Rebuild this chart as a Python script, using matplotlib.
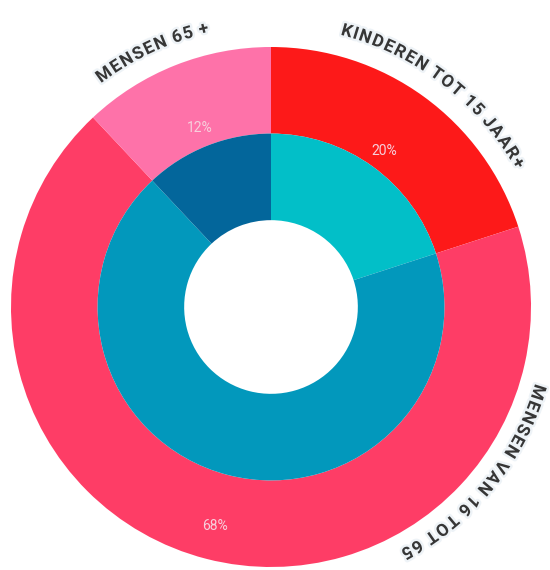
import matplotlib
matplotlib.use('Agg')
import matplotlib.pyplot as plt
import matplotlib.patheffects as pe
from matplotlib.font_manager import FontProperties
import numpy as np

# data
groups = ['KINDEREN TOT 15 JAAR+', 'MENSEN VAN 16 TOT 65', 'MENSEN 65 +']
outer_values = [20, 68, 12]
inner_values = [20, 68, 12]
pct_labels = ['20%', '68%', '12%']

outer_colors = ['#fd1919', '#fe3d66', '#fe72a9']
inner_colors = ['#02bfc8', '#0298bc', '#03669b']

# where the curved labels sit (degrees clockwise from 12 o'clock, gap past the ring)
label_angles = [37.5, 129, -25]
label_gap = [21, 15, 21]
pct_radius = [0.74, 0.87, 0.74]

W, H = 550, 570
cx, cy, R = 271, 263, 260

fig = plt.figure(figsize=(W / 100, H / 100), dpi=100)
ax = fig.add_axes([0, 0, 1, 1])

ax.pie(outer_values, colors=outer_colors, radius=R, center=(cx, cy),
       startangle=90, counterclock=False,
       wedgeprops=dict(width=R * 0.333, linewidth=0))
ax.pie(inner_values, colors=inner_colors, radius=R * 0.667, center=(cx, cy),
       startangle=90, counterclock=False,
       wedgeprops=dict(width=R * 0.333, linewidth=0))

ax.set_xlim(0, W)
ax.set_ylim(0, H)
ax.set_aspect('equal')
ax.axis('off')

# percentage labels
total = sum(outer_values)
cum = np.cumsum(outer_values)
for lab, v, c, rf in zip(pct_labels, outer_values, cum, pct_radius):
    a = np.radians((c - v / 2) / total * 360)
    ax.text(cx + R * rf * np.sin(a), cy + R * rf * np.cos(a), lab,
            ha='center', va='center', fontsize=10, color='#f7cfdc',
            family='Roboto')

# curved labels around the outer ring
renderer = fig.canvas.get_renderer()
prop = FontProperties(family='Roboto', weight='bold', size=12.5)
halo = [pe.withStroke(linewidth=3.5, foreground='#eef3f7')]


def curved_text(text, center_deg, radius, track=1.13):
    base = renderer.get_text_width_height_descent('XX', prop, ismath=False)[0]
    widths = np.array([
        renderer.get_text_width_height_descent('X' + ch + 'X', prop, ismath=False)[0] - base
        for ch in text]) * track
    start = np.radians(center_deg) - widths.sum() / 2 / radius
    angles = start + (np.cumsum(widths) - widths / 2) / radius
    for ch, a in zip(text, angles):
        ax.text(cx + radius * np.sin(a), cy + radius * np.cos(a), ch,
                rotation=-np.degrees(a), rotation_mode='anchor',
                ha='center', va='baseline', fontproperties=prop,
                color='#363636', path_effects=halo)


for g, ang, gap in zip(groups, label_angles, label_gap):
    curved_text(g, ang, R + gap)

fig.savefig('out.png', dpi=100)
